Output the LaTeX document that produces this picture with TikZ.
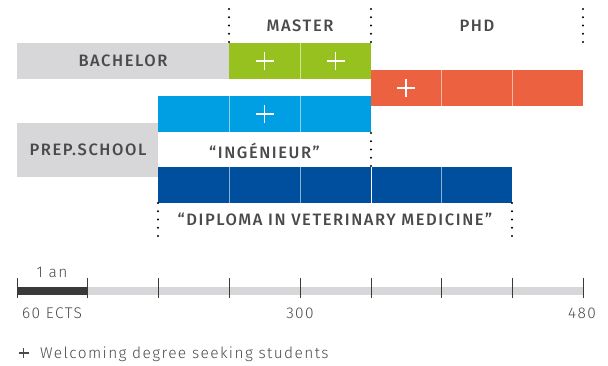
\documentclass[tikz,border=0pt]{standalone}
\usepackage{fontspec}
\setmainfont{Fira Sans}
\newfontfamily\capsfont[LetterSpace=9.5]{Fira Sans Medium}
\newfontfamily\smallfont[LetterSpace=9]{Fira Sans Light}
\definecolor{lgray}{HTML}{D7D7D9}
\definecolor{mgreen}{HTML}{97C11F}
\definecolor{mcyan}{HTML}{009FE3}
\definecolor{morange}{HTML}{EC6240}
\definecolor{mblue}{HTML}{004F9F}
\definecolor{txt}{HTML}{4A4A4A}
\definecolor{axisdark}{HTML}{3A3A3A}
\tikzset{
  x=1pt,y=-1pt,
  bar/.style={draw=none,inner sep=0pt,minimum height=36pt},
  captext/.style={text=txt,font=\capsfont\fontsize{16.5}{18}\selectfont,inner sep=0pt},
  smalltext/.style={text=txt,font=\smallfont\fontsize{15.5}{17}\selectfont,inner sep=0pt},
  divider/.style={draw=white,opacity=0.55,line width=1pt},
  plusline/.style={draw=white,line width=1.3pt},
  dotline/.style={draw=black,line width=2.3pt,line cap=round,dash pattern=on 0pt off 8.25pt},
  tick/.style={draw=axisdark,line width=0.9pt},
}
\begin{document}
\begin{tikzpicture}
\useasboundingbox (0,0) rectangle (608,365);
% bars
\node[bar,fill=lgray,minimum width=212pt,anchor=north west] (bachelor) at (17,43) {};
\node[bar,fill=mgreen,minimum width=142pt,anchor=north west] (master) at (229,43) {};
\node[bar,fill=morange,minimum width=212pt,anchor=north west] (phd) at (371,70) {};
\node[bar,fill=mcyan,minimum width=213pt,anchor=north west] (ing) at (158,96) {};
\node[bar,fill=lgray,minimum width=141pt,minimum height=54pt,anchor=north west] (prep) at (17,123) {};
\node[bar,fill=mblue,minimum width=354pt,anchor=north west] (vet) at (158,167) {};
% dividers
\draw[divider] (300,43) -- (300,79);
\draw[divider] (441,70) -- (441,106);
\draw[divider] (512,70) -- (512,106);
\draw[divider] (229,96) -- (229,132);
\draw[divider] (300,96) -- (300,132);
\draw[divider] (229,167) -- (229,203);
\draw[divider] (300,167) -- (300,203);
\draw[divider,opacity=1] (371,167) -- (371,203);
\draw[divider] (441,167) -- (441,203);
% pluses
\foreach \px/\py in {264.5/61, 335.5/61, 406/88, 264.5/114}{
  \draw[plusline] (\px-9,\py) -- (\px+9,\py) (\px,\py-9) -- (\px,\py+9);
}
% labels
\node[captext] (lbach) at (123,61) {BACHELOR};
\node[captext] (lprep) at (88,150) {PREP.SCHOOL};
\node[captext] (lmaster) at (300,26) {MASTER};
\node[captext] (lphd) at (477,26) {PHD};
\node[captext] (ling) at (264.5,151) {“INGÉNIEUR”};
\node[captext] (lvet) at (335,219) {“DIPLOMA IN VETERINARY MEDICINE”};
% dotted lines
\coordinate (d1a) at (229,9); \coordinate (d1b) at (229,43);
\coordinate (d2a) at (371,9); \coordinate (d2b) at (371,43);
\coordinate (d3a) at (583,9); \coordinate (d3b) at (583,43);
\coordinate (d4a) at (371,133); \coordinate (d4b) at (371,167);
\coordinate (d5a) at (158,203); \coordinate (d5b) at (158,237);
\coordinate (d6a) at (512,203); \coordinate (d6b) at (512,237);
\foreach \d in {d1,d2,d3,d4,d5,d6}{\draw[dotline] (\d a) -- (\d b);}
% axis
\fill[lgray] (17,287) rectangle (583,295);
\fill[axisdark] (17,287) rectangle (87.5,295);
\foreach \tx in {17,87.5,158,229,300,371,441,512,583}{
  \draw[tick] (\tx,278) -- (\tx,298);
}
\node[smalltext] (lan) at (52,272) {1 an};
\node[smalltext] (l60) at (52,313) {60 ECTS};
\node[smalltext] (l300) at (300,313) {300};
\node[smalltext] (l480) at (582,313) {480};
% legend
\draw[draw=txt,line width=1.2pt] (18.5,353) -- (28.5,353) (23.5,348) -- (23.5,358);
\node[smalltext,anchor=west] (leg) at (40,354) {Welcoming degree seeking students};
\end{tikzpicture}
\end{document}
